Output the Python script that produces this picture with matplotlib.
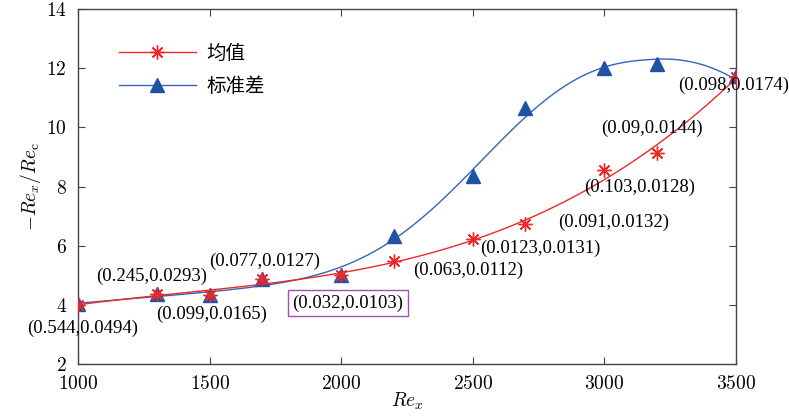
import numpy as np
import matplotlib.pyplot as plt
from matplotlib.lines import Line2D

plt.rcParams['font.family'] = ['Liberation Serif', 'Noto Sans CJK SC', 'DejaVu Serif']
plt.rcParams['mathtext.fontset'] = 'cm'

# data
re_x = [1000, 1300, 1500, 1700, 2000, 2200, 2500, 2700, 3000, 3200, 3500]
mean_vals = [4.0, 4.38, 4.32, 4.86, 5.0, 5.48, 6.22, 6.73, 8.55, 9.15, 11.72]
std_vals = [4.03, 4.36, 4.32, 4.88, 5.02, 6.34, 8.36, 10.65, 12.0, 12.13, 11.73]

labels = ['(0.544,0.0494)', '(0.245,0.0293)', '(0.099,0.0165)', '(0.077,0.0127)',
          '(0.032,0.0103)', '(0.063,0.0112)', '(0.0123,0.0131)', '(0.091,0.0132)',
          '(0.103,0.0128)', '(0.09,0.0144)', '(0.098,0.0174)']
label_xy = [(1019, 3.22), (1281, 4.97), (1509, 3.69), (1710, 5.48),
            (2026, 4.06), (2481, 5.18), (2755, 5.92), (3033, 6.8),
            (3135, 7.98), (3180, 9.97), (3492, 11.43)]

red = '#ee2828'
blue = '#1f52a3'
blue_line = '#3466b8'

fig = plt.figure(figsize=(7.89, 4.16), dpi=100)
ax = fig.add_axes([0.0989, 0.125, 0.8340, 0.853])

x = np.array(re_x, dtype=float)
xs = np.linspace(1000, 3500, 400)
u = (x - 2250) / 1250
us = (xs - 2250) / 1250

# mean: cubic fit
p_mean = np.polyfit(u, mean_vals, 3)
mean_fit = np.polyval(p_mean, us)

# std: linear base + generalised gaussian bump, least squares over a small grid
def basis(xx, mu, s, p):
    return np.column_stack([np.ones_like(xx), xx, np.exp(-np.abs((xx - mu) / s) ** p)])

p = 2.4
best = None
for mu in np.arange(2900, 3500, 10):
    for s in np.arange(300, 1400, 10):
        A = basis(x, mu, s, p)
        coef = np.linalg.lstsq(A, np.array(std_vals), rcond=None)[0]
        err = np.sum((A @ coef - std_vals) ** 2)
        if best is None or err < best[0]:
            best = (err, mu, s, coef)
_, mu, s, coef = best
std_fit = basis(xs, mu, s, p) @ coef

ax.plot(xs, std_fit, color=blue_line, lw=1.0, zorder=2)
ax.plot(x, std_vals, linestyle='none', marker='^', ms=10.5, color=blue, zorder=3)
ax.plot(x, mean_vals, linestyle='none', marker=(8, 2, 0), ms=10, mew=1.0, color=red, zorder=4)
ax.plot(xs, mean_fit, color=red, lw=1.0, zorder=5)

for t, (tx, ty) in zip(labels, label_xy):
    if t == '(0.032,0.0103)':
        ax.text(tx, ty, t, fontsize=13.5, ha='center', va='center', zorder=6,
                bbox=dict(boxstyle='square,pad=0.25', fc='white', ec='#a050b0', lw=1.0))
    else:
        ax.text(tx, ty, t, fontsize=13.5, ha='center', va='center', zorder=6)

ax.set_xlim(1000, 3500)
ax.set_ylim(2, 14)
xt = [1000, 1500, 2000, 2500, 3000, 3500]
yt = [2, 4, 6, 8, 10, 12, 14]
ax.set_xticks(xt)
ax.set_xticklabels([f'${v}$' for v in xt])
ax.set_yticks(yt)
ax.set_yticklabels([f'${v}$' for v in yt])
ax.tick_params(direction='in', top=True, right=True, labelsize=14, length=5,
               color='#444444', pad=8)
for sp in ax.spines.values():
    sp.set_color('#444444')
    sp.set_linewidth(1.0)

ax.set_xlabel(r'$Re_x$', fontsize=14, labelpad=-2)
ax.set_ylabel(r'$-Re_x/Re_\mathrm{c}$', fontsize=14, labelpad=2)

handles = [Line2D([], [], color=red, lw=1.0, marker=(8, 2, 0), ms=10),
           Line2D([], [], color=blue_line, lw=1.0, marker='^', ms=10.5, mfc=blue, mec=blue)]
ax.legend(handles, ['均值', '标准差'], loc='upper left', bbox_to_anchor=(0.035, 0.955),
          frameon=False, handlelength=4.0, labelspacing=0.65, handletextpad=0.5,
          prop={'family': ['Noto Sans CJK SC'], 'size': 14})

fig.savefig('out.png', dpi=100)
